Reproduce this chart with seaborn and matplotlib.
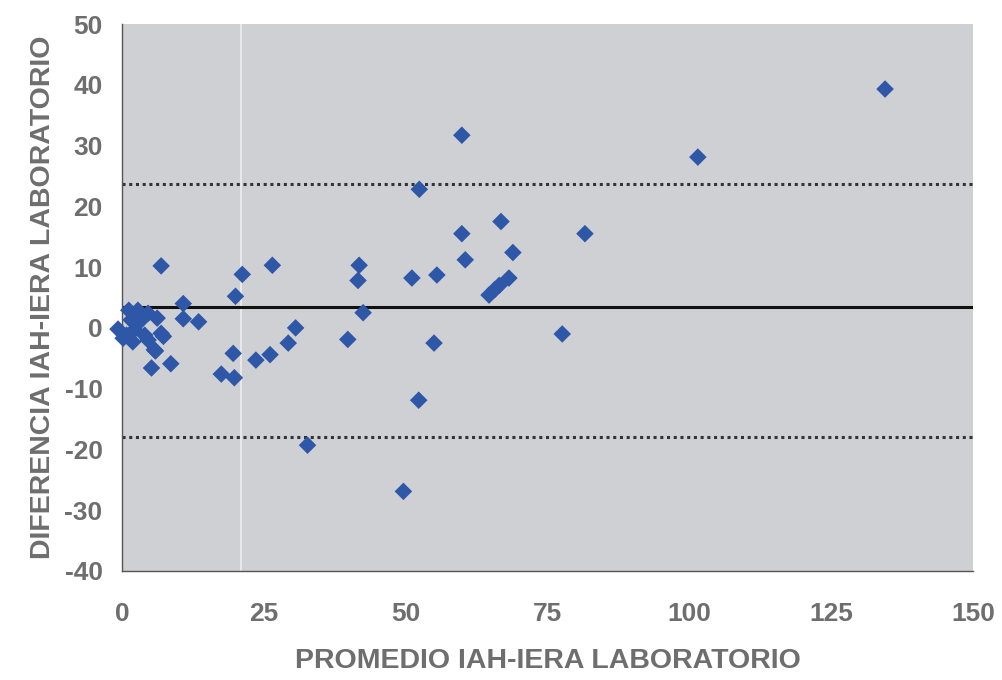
import matplotlib
matplotlib.use("Agg")
import matplotlib.pyplot as plt
import seaborn as sns
import pandas as pd

# Data
promedio = [134.5, 101.5, 59.9, 52.4, 81.6, 66.8, 59.9, 60.5, 68.9, 55.5,
            51.1, 68.2, 64.7, 65.7, 66.5, 41.8, 41.6, 42.5, 39.8, 55.0,
            77.6, 52.3, 32.7, 49.6, 30.6, 29.3, 26.5, 21.2, 20.0, 6.9,
            10.8, 10.8, 13.5, 19.6, 26.1, 23.6, 17.5, 19.8, 8.6, 5.2,
            5.9, 7.3, 6.2,
            1.2, -0.7, 4.6, 3.4, 2.2, 0.8, 4.0, 6.9, 5.7, 4.6,
            1.9, 0.2, 2.8, 1.6]
diferencia = [39.3, 28.1, 31.7, 22.8, 15.5, 17.5, 15.5, 11.2, 12.4, 8.7,
              8.2, 8.2, 5.4, 6.3, 7.0, 10.3, 7.8, 2.5, -1.9, -2.5,
              -1.0, -11.9, -19.3, -26.9, 0.0, -2.5, 10.3, 8.8, 5.2, 10.2,
              4.0, 1.5, 1.0, -4.2, -4.4, -5.3, -7.6, -8.2, -5.9, -6.6,
              -3.8, -1.4, 1.6,
              2.9, -0.2, 2.4, 1.3, -0.3, -1.2, -1.2, -0.9, -3.6, -2.0,
              -2.3, -1.7, 2.9, 1.3]
media = 3.4
limite_sup = 23.6
limite_inf = -17.9
x_ticks = [0, 25, 50, 75, 100, 125, 150]
y_ticks = [-40, -30, -20, -10, 0, 10, 20, 30, 40, 50]
x_label = "PROMEDIO IAH-IERA LABORATORIO"
y_label = "DIFERENCIA IAH-IERA LABORATORIO"

df = pd.DataFrame({"promedio": promedio, "diferencia": diferencia})

sns.set_style("white")
plt.rcParams["font.family"] = ["Liberation Sans", "DejaVu Sans"]

fig = plt.figure(figsize=(10.02, 6.80), dpi=100)
fig.patch.set_facecolor("white")
ax = fig.add_axes([122 / 1002, 1 - 571 / 680, (973 - 122) / 1002, (571 - 24) / 680])
ax.set_facecolor("#cfd0d4")

ax.axvline(21, color="#eeeeee", lw=1.2, zorder=1)

ax.axhline(media, color="#111111", lw=2.2, zorder=2)
ax.axhline(limite_sup, color="#333333", lw=2.2, ls=(0, (1, 1.2)), zorder=2)
ax.axhline(limite_inf, color="#333333", lw=2.2, ls=(0, (1, 1.2)), zorder=2)

sns.scatterplot(data=df, x="promedio", y="diferencia", ax=ax, marker="D",
                s=80, color="#2f57a8", edgecolor="none", zorder=3,
                clip_on=False, legend=False)

ax.set_xlim(0, 150)
ax.set_ylim(-40, 50)
ax.set_xticks(x_ticks)
ax.set_yticks(y_ticks)
ax.set_xticklabels([str(t) for t in x_ticks])
ax.set_yticklabels([str(t) for t in y_ticks])

txt_color = "#6e6e6e"
ax.tick_params(axis="x", direction="out", length=7, width=1, color="#555555",
               pad=15, labelsize=19, labelcolor=txt_color)
ax.tick_params(axis="y", direction="out", length=6, width=1, color="#555555",
               pad=8, labelsize=19, labelcolor=txt_color)
for lab in ax.get_xticklabels() + ax.get_yticklabels():
    lab.set_fontweight("bold")

for side in ["top", "right"]:
    ax.spines[side].set_visible(False)
for side in ["left", "bottom"]:
    ax.spines[side].set_color("#555555")
    ax.spines[side].set_linewidth(1)

ax.set_xlabel(x_label, fontsize=20.5, fontweight="bold", color=txt_color, labelpad=16)
ax.set_ylabel(y_label, fontsize=20.5, fontweight="bold", color=txt_color, labelpad=6)

fig.savefig("out.png", dpi=100)
